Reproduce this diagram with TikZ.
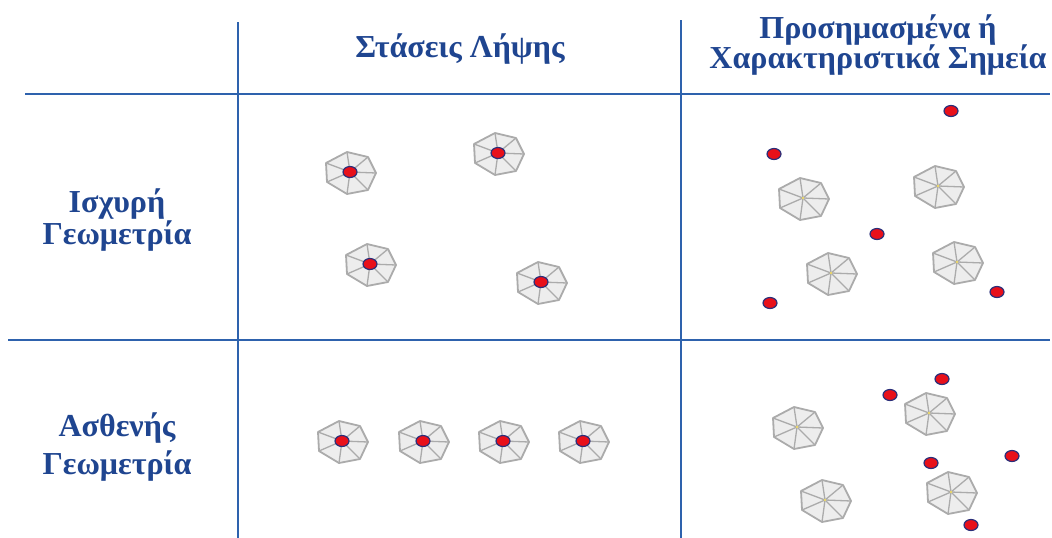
\documentclass[tikz,border=0pt]{standalone}
\usepackage{fontspec}
\setmainfont{Liberation Serif}
\usetikzlibrary{shapes.geometric}
\definecolor{gridblue}{HTML}{2E62AD}
\definecolor{labelblue}{HTML}{1F4590}
\definecolor{camedge}{HTML}{ABABAB}
\definecolor{camfill}{HTML}{EDEDED}
\definecolor{markred}{HTML}{E8101A}
\definecolor{markrim}{HTML}{2A2F7A}
\tikzset{
  grid/.style={draw=gridblue, line width=2pt},
  label/.style={font=\bfseries\fontsize{32}{38}\selectfont, text=labelblue, anchor=base, inner sep=0pt},
  target/.style={ellipse, fill=markred, draw=markrim, line width=1.2pt,
    minimum width=14pt, minimum height=11pt, inner sep=0pt},
  pics/camera/.style={code={
    \filldraw[fill=camfill, draw=camedge, line width=1.8pt, line join=round]
      (-24,-9) -- (-3,-20) -- (18,-15) -- (26,1) -- (18,18) -- (-3,22) -- (-23,10) -- cycle;
    \foreach \p in {(-24,-9),(-3,-20),(18,-15),(26,1),(18,18),(-3,22),(-23,10)}
      \draw[camedge, line width=1.3pt] (0,0) -- \p;
    \fill[yellow!60!brown!70] (0,0) circle (1.3);
  }},
  pics/poscamera/.style={code={
    \pic {camera};
    \node[target] at (0,0) {};
  }}
}
\begin{document}
\begin{tikzpicture}[x=1pt, y=-1pt]
\useasboundingbox (0,0) rectangle (1052,538);

% table rules
\draw[grid] (238,22) -- (238,538);
\draw[grid] (681,20) -- (681,538);
\draw[grid] (25,93.5) -- (1050,93.5);
\draw[grid] (8,340) -- (1050,340);

% headers
\node[label] (hpose) at (460,57) {Στάσεις Λήψης};
\node[label] (hgcp1) at (878,38) {Προσημασμένα ή};
\node[label] (hgcp2) at (878,68) {Χαρακτηριστικά Σημεία};
\node[label] (rstrong1) at (117,212) {Ισχυρή};
\node[label] (rstrong2) at (117,244) {Γεωμετρία};
\node[label] (rweak1) at (117,436) {Ασθενής};
\node[label] (rweak2) at (117,474) {Γεωμετρία};

% strong geometry: camera stations
\pic (sa) at (350,172) {poscamera};
\pic (sb) at (498,153) {poscamera};
\pic (sc) at (370,264) {poscamera};
\pic (sd) at (541,282) {poscamera};

% strong geometry: control points and cameras
\pic (ta) at (803,198) {camera};
\pic (tb) at (938,186) {camera};
\pic (tc) at (831,273) {camera};
\pic (td) at (957,262) {camera};
\node[target] (p1) at (951,111) {};
\node[target] (p2) at (774,154) {};
\node[target] (p3) at (877,234) {};
\node[target] (p4) at (770,303) {};
\node[target] (p5) at (997,292) {};

% weak geometry: camera stations in a row
\pic (wa) at (342,441) {poscamera};
\pic (wb) at (423,441) {poscamera};
\pic (wc) at (503,441) {poscamera};
\pic (wd) at (583,441) {poscamera};

% weak geometry: control points and cameras
\pic (ua) at (797,427) {camera};
\pic (ub) at (929,413) {camera};
\pic (uc) at (951,492) {camera};
\pic (ud) at (825,500) {camera};
\node[target] (q1) at (942,379) {};
\node[target] (q2) at (890,395) {};
\node[target] (q3) at (1012,456) {};
\node[target] (q4) at (931,463) {};
\node[target] (q5) at (971,525) {};
\end{tikzpicture}
\end{document}
